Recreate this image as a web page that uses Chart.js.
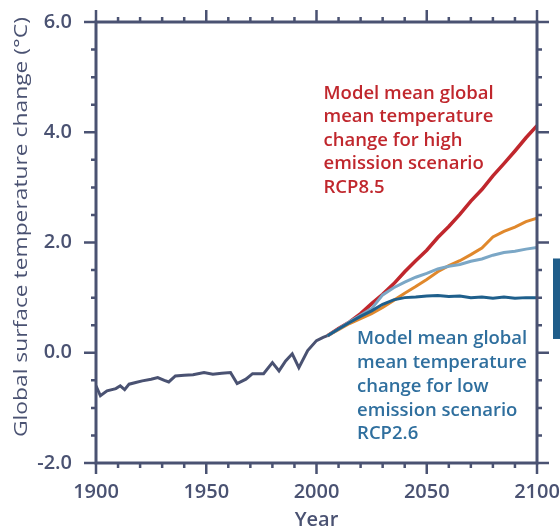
<!DOCTYPE html>
<html>
<head>
<meta charset="utf-8">
<script src="https://cdn.jsdelivr.net/npm/chart.js@4.4.1/dist/chart.umd.min.js"></script>
<style>
  body { margin: 0; background: #fff; }
  #wrap { width: 560px; height: 531px; }
</style>
</head>
<body>
<div id="wrap"><canvas id="tempChart" width="560" height="531"></canvas></div>
<script>
const histYears = [1900, 1902, 1905, 1909, 1911, 1913, 1915, 1918, 1921, 1925, 1928, 1931, 1933, 1936, 1940, 1944, 1949, 1953, 1957, 1961, 1964, 1968, 1971, 1976, 1980, 1983, 1986, 1989, 1992, 1996, 2000, 2003, 2005];
const histTemps = [-0.60, -0.78, -0.69, -0.65, -0.60, -0.67, -0.57, -0.54, -0.51, -0.48, -0.45, -0.50, -0.53, -0.42, -0.41, -0.40, -0.36, -0.39, -0.37, -0.36, -0.56, -0.48, -0.38, -0.38, -0.18, -0.33, -0.15, -0.02, -0.27, 0.04, 0.22, 0.28, 0.31];

const projYears = [2005, 2010, 2015, 2020, 2025, 2030, 2035, 2040, 2045, 2050, 2055, 2060, 2065, 2070, 2075, 2080, 2085, 2090, 2095, 2100];
const rcp85 = [0.31, 0.44, 0.56, 0.71, 0.89, 1.06, 1.25, 1.47, 1.67, 1.86, 2.09, 2.29, 2.51, 2.75, 2.96, 3.21, 3.43, 3.66, 3.90, 4.12];
const rcp85Trend = [0.31, 0.42, 0.55, 0.70, 0.87, 1.05, 1.25, 1.45, 1.66, 1.87, 2.08, 2.30, 2.52, 2.75, 2.97, 3.20, 3.43, 3.66, 3.89, 4.12];
const rcp60 = [0.31, 0.42, 0.53, 0.62, 0.71, 0.82, 0.95, 1.08, 1.20, 1.33, 1.47, 1.58, 1.67, 1.78, 1.90, 2.10, 2.20, 2.28, 2.38, 2.44];
const rcp45 = [0.31, 0.43, 0.56, 0.68, 0.80, 1.05, 1.18, 1.28, 1.37, 1.44, 1.52, 1.57, 1.60, 1.66, 1.70, 1.77, 1.82, 1.84, 1.88, 1.91];
const rcp26 = [0.31, 0.43, 0.55, 0.66, 0.76, 0.88, 0.96, 1.00, 1.01, 1.03, 1.04, 1.02, 1.03, 1.00, 1.01, 0.99, 1.01, 0.99, 1.00, 1.00];

const xMinorTicks = [1900, 1910, 1920, 1930, 1940, 1950, 1960, 1970, 1980, 1990, 2000, 2010, 2020, 2030, 2040, 2050, 2060, 2070, 2080, 2090, 2100];
const yMinorTicks = [-2, -1.5, -1, -0.5, 0, 0.5, 1, 1.5, 2, 2.5, 3, 3.5, 4, 4.5, 5, 5.5, 6];

const yTitle = "Global surface temperature change (°C)";
const highText = ["Model mean global", "mean temperature", "change for high", "emission scenario", "RCP8.5"];
const lowText = ["Model mean global", "mean temperature", "change for low", "emission scenario", "RCP2.6"];

const axisColor = "#4a5272";
const fontFamily = "'Open Sans', sans-serif";

function pts(xs, ys) {
  return xs.map((x, i) => ({ x: x, y: ys[i] }));
}

const framePlugin = {
  id: "frame",
  afterDraw(chart) {
    const ctx = chart.ctx;
    const xs = chart.scales.x;
    const ys = chart.scales.y;
    const a = chart.chartArea;
    ctx.save();
    ctx.strokeStyle = axisColor;
    ctx.lineCap = "butt";

    // tick marks, long ones every 50 years / 2 degrees
    ctx.lineWidth = 2.5;
    xMinorTicks.forEach((v) => {
      const px = xs.getPixelForValue(v);
      const major = v % 50 === 0;
      ctx.beginPath();
      ctx.moveTo(px, a.top);
      ctx.lineTo(px, a.top - (major ? 12 : 5));
      ctx.moveTo(px, a.bottom);
      ctx.lineTo(px, a.bottom + (major ? 11 : 5));
      ctx.stroke();
    });
    yMinorTicks.forEach((v) => {
      const py = ys.getPixelForValue(v);
      const major = v % 2 === 0;
      ctx.beginPath();
      ctx.moveTo(a.left, py);
      ctx.lineTo(a.left - (major ? 12 : 5), py);
      ctx.moveTo(a.right, py);
      ctx.lineTo(a.right + (major ? 12 : 5), py);
      ctx.stroke();
    });

    ctx.lineWidth = 3;
    ctx.strokeRect(a.left, a.top, a.right - a.left, a.bottom - a.top);

    // cut-off bar at the right edge
    ctx.fillStyle = "#1f5d8a";
    const barTop = ys.getPixelForValue(1.71);
    const barBottom = ys.getPixelForValue(0.25);
    ctx.fillRect(553, barTop, 10, barBottom - barTop);

    // y title, stretched along its length like the original
    ctx.save();
    ctx.font = "19px " + fontFamily;
    ctx.fillStyle = axisColor;
    ctx.textAlign = "center";
    ctx.textBaseline = "middle";
    const w = ctx.measureText(yTitle).width;
    ctx.translate(22, ys.getPixelForValue(2.28));
    ctx.rotate(-Math.PI / 2);
    ctx.scale(420 / w, 1);
    ctx.fillText(yTitle, 0, 0);
    ctx.restore();

    // scenario labels
    ctx.font = "600 18.5px " + fontFamily;
    ctx.textBaseline = "middle";
    ctx.textAlign = "left";
    ctx.fillStyle = "#c0272d";
    let tx = xs.getPixelForValue(2003.2);
    let ty = ys.getPixelForValue(4.70);
    highText.forEach((t, i) => ctx.fillText(t, tx, ty + i * 23.5));
    ctx.fillStyle = "#2f6f9e";
    tx = xs.getPixelForValue(2018.4);
    ty = ys.getPixelForValue(0.25);
    lowText.forEach((t, i) => ctx.fillText(t, tx, ty + i * 23.8));
    ctx.restore();
  },
};

const line = (data, color, width) => ({
  data: data,
  borderColor: color,
  borderWidth: width,
  pointRadius: 0,
  tension: 0,
  fill: false,
});

const tempChart = new Chart(document.getElementById("tempChart").getContext("2d"), {
  type: "line",
  data: {
    datasets: [
      line(pts(projYears, rcp26), "#1e5f8c", 3),
      line(pts(projYears, rcp45), "#7ba7c6", 3),
      line(pts(projYears, rcp60), "#e0882c", 3),
      line(pts(projYears, rcp85), "#c0272d", 3.5),
      line(pts(projYears, rcp85Trend), "#2e8b2e", 1.5),
      line(pts(histYears, histTemps), axisColor, 3),
    ],
  },
  options: {
    responsive: false,
    animation: false,
    layout: { padding: { top: 22, right: 0, bottom: 0, left: 0 } },
    plugins: { legend: { display: false }, tooltip: { enabled: false } },
    scales: {
      x: {
        type: "linear",
        min: 1900,
        max: 2100,
        grid: { display: false, drawTicks: false },
        border: { display: false },
        afterFit: (s) => {
          s.height = 68;
          s.paddingRight = 23;
        },
        ticks: {
          stepSize: 50,
          padding: 17,
          color: axisColor,
          font: { family: fontFamily, size: 20, weight: "600" },
          callback: (v) => String(v),
        },
        title: {
          display: true,
          text: "Year",
          color: axisColor,
          font: { family: fontFamily, size: 20, weight: "600" },
          padding: { top: 0, bottom: -1 },
        },
      },
      y: {
        min: -2,
        max: 6,
        grid: { display: false, drawTicks: false },
        border: { display: false },
        afterFit: (s) => {
          s.width = 96;
          s.paddingTop = 0;
        },
        ticks: {
          stepSize: 2,
          padding: 24,
          color: axisColor,
          font: { family: fontFamily, size: 20, weight: "600" },
          callback: (v) => v.toFixed(1),
        },
      },
    },
  },
  plugins: [framePlugin],
});
</script>
</body>
</html>
